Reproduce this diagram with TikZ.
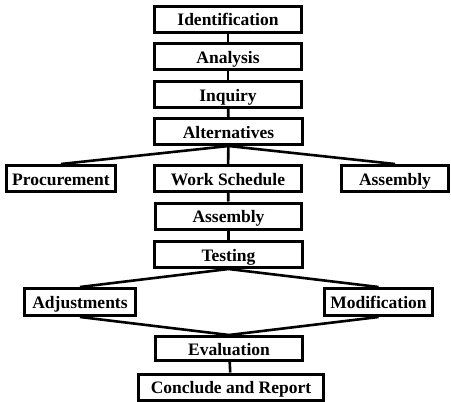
\documentclass[tikz,border=0pt]{standalone}
\usepackage{fontspec}
\setmainfont{Liberation Serif}
\begin{document}
\begin{tikzpicture}[x=1pt,y=-1pt,
  box/.style={draw=black,line width=3pt,fill=white,inner sep=0pt,
    font=\fontsize{17.5}{20}\selectfont\bfseries,minimum height=26pt,
    text height=13.5pt,text depth=0pt},
  link/.style={draw=black,line width=2.6pt}]
\useasboundingbox[fill=white] (0,0) rectangle (451,402);
\node[box,minimum width=147pt] (id) at (228,19) {Identification};
\node[box,minimum width=147pt] (an) at (228,56.5) {Analysis};
\node[box,minimum width=147pt] (inq) at (228,94.5) {Inquiry};
\node[box,minimum width=148pt] (alt) at (228.5,131.5) {Alternatives};
\node[box,minimum width=109pt] (proc) at (61,178.5) {Procurement};
\node[box,minimum width=147pt] (ws) at (228,178.5) {Work Schedule};
\node[box,minimum width=107pt] (asm2) at (395,178.5) {Assembly};
\node[box,minimum width=146pt] (asm) at (228.5,216) {Assembly};
\node[box,minimum width=148pt] (test) at (228.5,254.5) {Testing};
\node[box,minimum width=111pt,minimum height=27pt] (adj) at (80,302) {Adjustments};
\node[box,minimum width=108pt,minimum height=27pt] (mod) at (378.5,302) {Modification};
\node[box,minimum width=147pt,minimum height=24pt] (eval) at (229,348.5) {Evaluation};
\node[box,minimum width=185pt] (conc) at (231,387) {Conclude and Report};
\draw[link] (id) -- (an);
\draw[link] (an) -- (inq);
\draw[link] (inq) -- (alt);
\draw[link] (alt) -- (ws);
\draw[link] (alt.south) -- (proc.north);
\draw[link] (alt.south) -- (asm2.north);
\draw[link] (ws) -- (asm);
\draw[link] (asm) -- (test);
\draw[link] (test.south) -- (adj.north);
\draw[link] (test.south) -- (mod.north);
\draw[link] (adj.south) -- (eval.north);
\draw[link] (mod.south) -- (eval.north);
\draw[link] (eval) -- (conc);
\end{tikzpicture}
\end{document}
